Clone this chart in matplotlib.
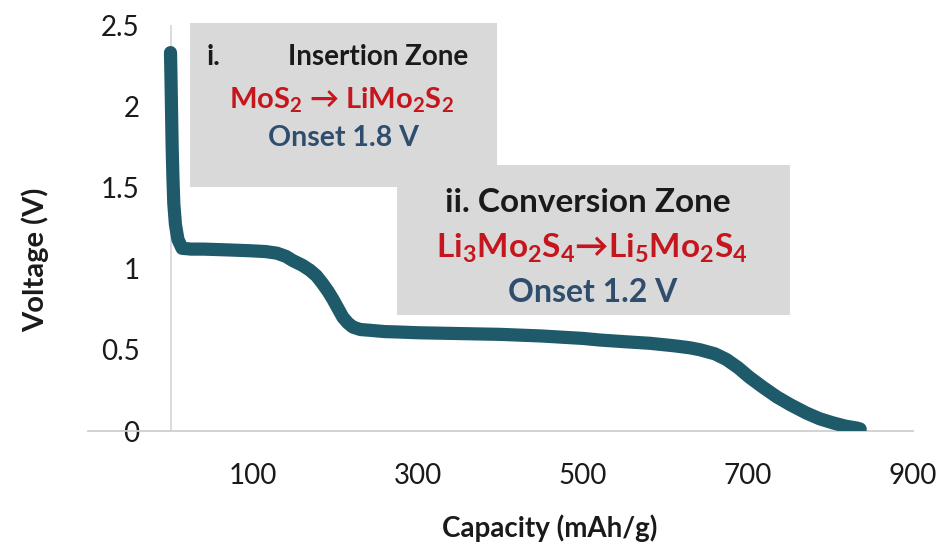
import matplotlib
matplotlib.use("Agg")
import matplotlib.pyplot as plt
from matplotlib.patches import Rectangle

# ---- data ----
capacity = [0, 0.5, 1, 1.5, 2, 3, 4, 6, 9, 14, 25, 40, 70, 96, 115, 129, 140, 148,
            160, 169, 177, 184, 191, 197, 203, 209, 215, 221, 230, 242, 260, 274,
            300, 350, 400, 450, 500, 521, 550, 581, 610, 630, 642, 660, 674, 688,
            702, 718, 735, 752, 771, 787, 803, 818, 832, 836]
voltage = [2.33, 2.2, 2.05, 1.9, 1.75, 1.55, 1.4, 1.27, 1.18, 1.125, 1.12, 1.12,
           1.115, 1.11, 1.105, 1.095, 1.075, 1.05, 1.02, 0.99, 0.955, 0.91, 0.86,
           0.81, 0.755, 0.70, 0.665, 0.64, 0.625, 0.62, 0.612, 0.61,
           0.605, 0.60, 0.595, 0.585, 0.57, 0.56, 0.55, 0.54, 0.525, 0.512, 0.50,
           0.475, 0.44, 0.39, 0.33, 0.27, 0.21, 0.16, 0.11, 0.075, 0.05, 0.03,
           0.018, 0.012]

x_ticks = [100, 300, 500, 700, 900]
y_ticks = [0, 0.5, 1, 1.5, 2, 2.5]
y_tick_labels = ["0", "0.5", "1", "1.5", "2", "2.5"]

plt.rcParams['font.family'] = ['Lato', 'DejaVu Sans']
plt.rcParams['mathtext.fontset'] = 'custom'
plt.rcParams['mathtext.rm'] = 'Lato:bold'
plt.rcParams['mathtext.bf'] = 'Lato:bold'
plt.rcParams['mathtext.it'] = 'Lato:bold'
plt.rcParams['mathtext.default'] = 'regular'

W, H = 943, 549
fig = plt.figure(figsize=(W / 100, H / 100), dpi=100)

def fx(px):
    return px / W

def fy(py):
    return 1 - py / H

ax = fig.add_axes([fx(88), fy(431), (913 - 88) / W, (431 - 25) / H])
ax.set_xlim(-100, 900)
ax.set_ylim(0, 2.5)

for s in ['top', 'right', 'left']:
    ax.spines[s].set_visible(False)
ax.spines['bottom'].set_color('#cfcfcf')
ax.spines['bottom'].set_linewidth(1.3)
ax.axvline(0, color='#d9d9d9', lw=1.3, zorder=1)

ax.set_xticks(x_ticks)
ax.set_xticklabels([str(v) for v in x_ticks])
ax.set_yticks(y_ticks)
ax.set_yticklabels(y_tick_labels)
ax.tick_params(axis='both', length=0, labelsize=20, colors='#1a1a1a')
ax.tick_params(axis='x', pad=23)
ax.tick_params(axis='y', pad=-37)

teal = '#1e5a6a'
ax.plot(capacity, voltage, color=teal, lw=9.5, solid_capstyle='round',
        solid_joinstyle='round', zorder=3)

ax.set_xlabel('Capacity (mAh/g)', fontsize=20, fontweight='bold', color='#1a1a1a')
ax.xaxis.set_label_coords((550 - 88) / 825, (431 - 528) / 406)
ax.xaxis.label.set_va('center')
ax.set_ylabel('Voltage (V)', fontsize=21, fontweight='bold', color='#1a1a1a')
ax.yaxis.set_label_coords((35 - 88) / 825, (431 - 260) / 406)
ax.yaxis.label.set_va('center')

# annotation boxes
gray = '#d9d9d9'
fig.patches.append(Rectangle((fx(190), fy(187)), (497 - 190) / W, (187 - 23) / H,
                             transform=fig.transFigure, facecolor=gray, edgecolor='none', zorder=0))
fig.patches.append(Rectangle((fx(397), fy(315)), (790 - 397) / W, (315 - 165) / H,
                             transform=fig.transFigure, facecolor=gray, edgecolor='none', zorder=0))

red = '#c4161c'
blue = '#2f4d6c'
fig.text(fx(207), fy(57), 'i.', fontsize=20, fontweight='bold', color='#1a1a1a',
         ha='left', va='center')
fig.text(fx(378), fy(57), 'Insertion Zone', fontsize=20, fontweight='bold',
         color='#1a1a1a', ha='center', va='center')
fig.text(fx(342), fy(100), r'MoS$_2$ → LiMo$_2$S$_2$', fontsize=21, fontweight='bold',
         color=red, ha='center', va='center')
fig.text(fx(343), fy(138), 'Onset 1.8 V', fontsize=20.5, fontweight='bold', color=blue,
         ha='center', va='center')

fig.text(fx(588), fy(202), 'ii. Conversion Zone', fontsize=24, fontweight='bold',
         color='#1a1a1a', ha='center', va='center')
fig.text(fx(592), fy(248), r'Li$_3$Mo$_2$S$_4$→Li$_5$Mo$_2$S$_4$', fontsize=24,
         fontweight='bold', color=red, ha='center', va='center')
fig.text(fx(593), fy(293), 'Onset 1.2 V', fontsize=23, fontweight='bold', color=blue,
         ha='center', va='center')

fig.savefig('out.png', dpi=100)
